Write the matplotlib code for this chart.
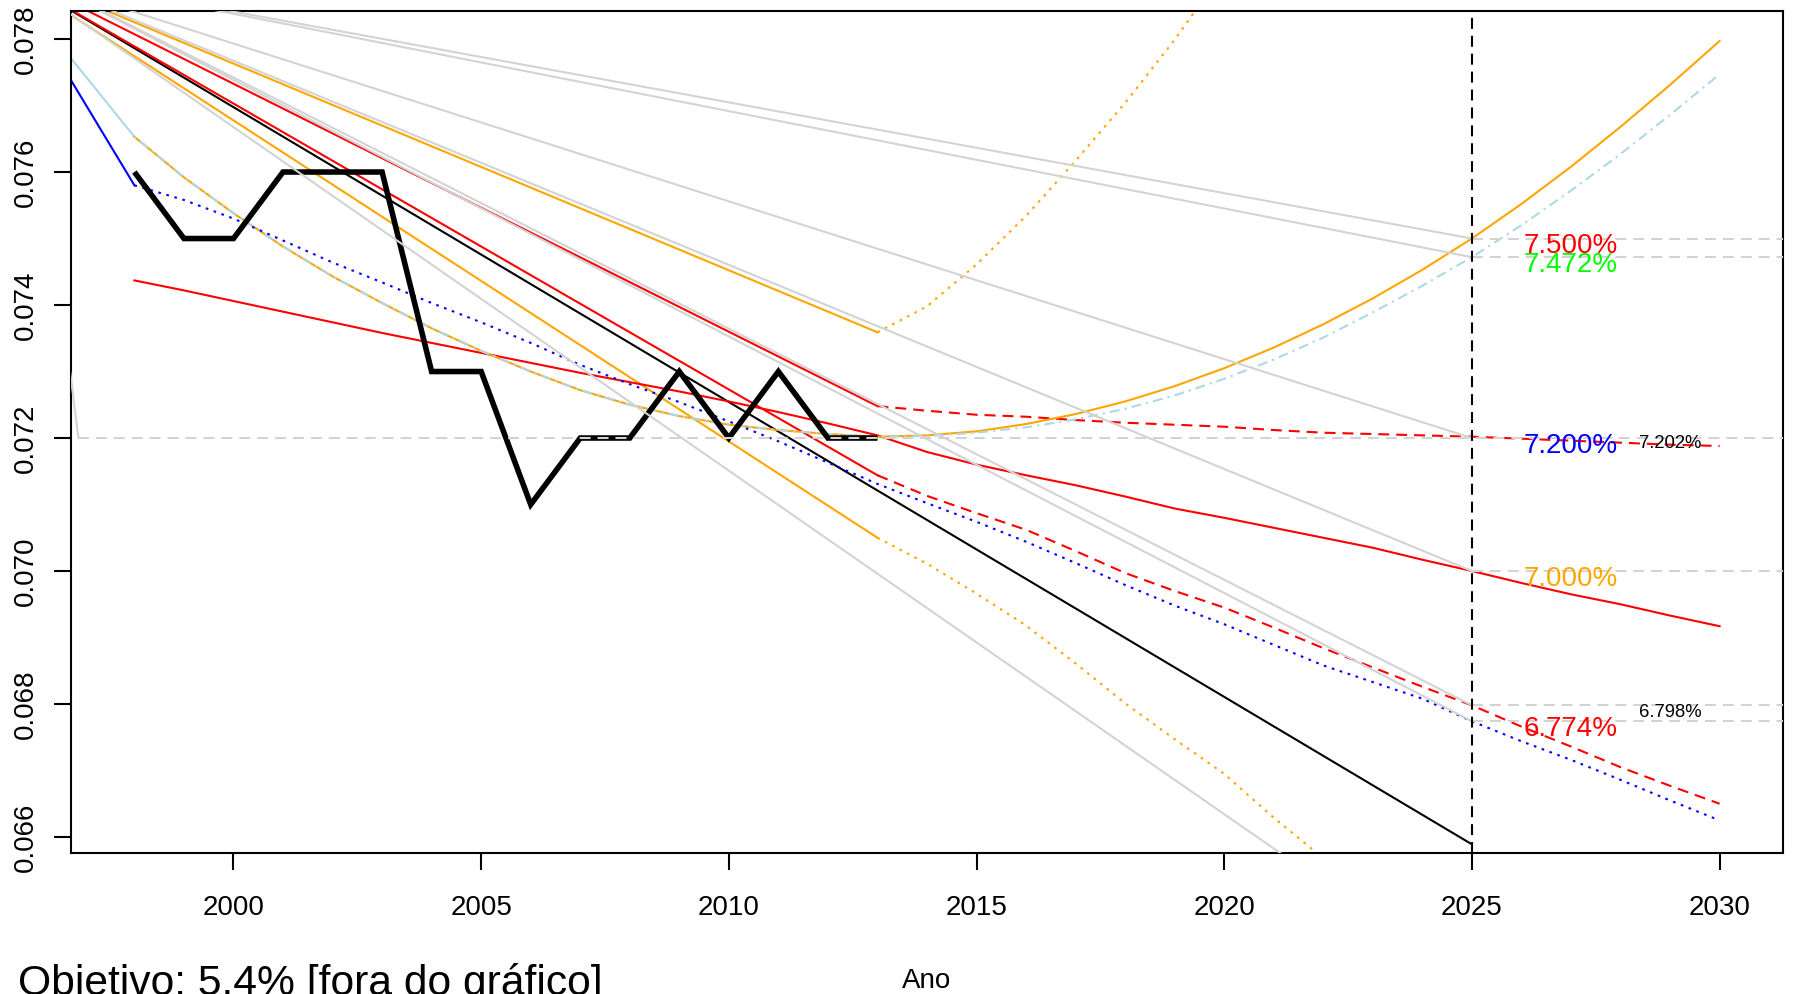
import matplotlib
matplotlib.use("Agg")
import matplotlib.pyplot as plt

plt.rcParams['font.family'] = ['Liberation Sans', 'DejaVu Sans']
plt.rcParams['lines.scale_dashes'] = False

# ---------------- data ----------------
XLIM = (1996.72, 2031.28)
YLIM = (0.065764, 0.078426)

x_ticks = [2000, 2005, 2010, 2015, 2020, 2025, 2030]
y_ticks = [0.066, 0.068, 0.070, 0.072, 0.074, 0.076, 0.078]
y_tick_labels = ["0.066", "0.068", "0.070", "0.072", "0.074", "0.076", "0.078"]

# historical series (thick black)
hist_years = list(range(1998, 2014))
hist_vals = [0.076, 0.075, 0.075, 0.076, 0.076, 0.076, 0.073, 0.073,
             0.071, 0.072, 0.072, 0.073, 0.072, 0.073, 0.072, 0.072]

# straight trend lines entering from the upper-left corner
black_thin_x = [1996.72, 2025]
black_thin_y = [0.07843, 0.06589]
redA_x = [1996.72, 2013]
redA_y = [0.07855, 0.07248]
redB_x = [1996.72, 2013]
redB_y = [0.07844, 0.07144]
orange1_x = [1996.72, 2013]
orange1_y = [0.07865, 0.07359]
orange2_x = [1996.72, 2013]
orange2_y = [0.07836, 0.07050]

# short segments at the left border
lightblue_seg_x = [1996.72, 1998]
lightblue_seg_y = [0.07771, 0.07653]
blue_seg_x = [1996.72, 1998]
blue_seg_y = [0.07738, 0.07580]

proj_years = list(range(2013, 2031))
redA_dash = [0.07248, 0.07241, 0.07235, 0.07232, 0.07227, 0.07223, 0.07220, 0.07217,
             0.07212, 0.07208, 0.07206, 0.07204, 0.07202, 0.07199, 0.07196, 0.07193,
             0.07190, 0.07188]
redB_dash = [0.07144, 0.07113, 0.07087, 0.07062, 0.07030, 0.06997, 0.06970, 0.06945,
             0.06915, 0.06884, 0.06855, 0.06826, 0.06798, 0.06766, 0.06736, 0.06705,
             0.06677, 0.06650]

orange1_dot_years = [2013, 2014, 2015, 2016, 2017, 2018, 2019, 2020]
orange1_dot = [0.07359, 0.07398, 0.07461, 0.07534, 0.07617, 0.07704, 0.07799, 0.07904]
orange2_dot_years = [2013, 2014, 2015, 2016, 2017, 2018, 2019, 2020, 2021, 2022, 2023]
orange2_dot = [0.07050, 0.07011, 0.06966, 0.06918, 0.06861, 0.06801, 0.06747,
               0.06695, 0.06629, 0.06568, 0.06505]

full_years = list(range(1998, 2031))
orange_curve = [0.07653, 0.07592, 0.07538, 0.07488, 0.07443, 0.07403, 0.07365, 0.07331,
                0.07300, 0.07272, 0.07250, 0.07233, 0.07220, 0.07212, 0.07206, 0.07202,
                0.07204, 0.07210, 0.07221, 0.07236, 0.07255, 0.07278, 0.07305, 0.07336,
                0.07371, 0.07410, 0.07453, 0.07500, 0.07552, 0.07608, 0.07668, 0.07731,
                0.07797]
lightblue_curve = [0.07653, 0.07592, 0.07538, 0.07488, 0.07443, 0.07403, 0.07365, 0.07331,
                   0.07300, 0.07272, 0.07250, 0.07233, 0.07220, 0.07212, 0.07206, 0.07202,
                   0.07203, 0.07208, 0.07216, 0.07228, 0.07244, 0.07264, 0.07289, 0.07318,
                   0.07351, 0.07389, 0.07429, 0.07472, 0.07520, 0.07572, 0.07627, 0.07686,
                   0.07747]
blue_dotted = [0.07580, 0.07558, 0.07530, 0.07497, 0.07464, 0.07434, 0.07403, 0.07374,
               0.07343, 0.07310, 0.07281, 0.07254, 0.07225, 0.07195, 0.07163, 0.07131,
               0.07102, 0.07074, 0.07044, 0.07012, 0.06979, 0.06948, 0.06920, 0.06889,
               0.06858, 0.06833, 0.06808, 0.06774, 0.06744, 0.06716, 0.06686, 0.06655,
               0.06625]
red_long = [0.07437, 0.07422, 0.07406, 0.07390, 0.07374, 0.07358, 0.07343, 0.07328,
            0.07313, 0.07298, 0.07284, 0.07270, 0.07255, 0.07239, 0.07222, 0.07204,
            0.07179, 0.07160, 0.07144, 0.07129, 0.07112, 0.07094, 0.07080, 0.07065,
            0.07050, 0.07035, 0.07017, 0.07000, 0.06982, 0.06965, 0.06950, 0.06933,
            0.06917]

# gray guide lines: start on left border, end points
gray_start_x = [1996.72, 1996.72, 1996.72, 1996.72, 1996.72, 1996.72, 1996.72]
gray_start_y = [0.07886, 0.07886, 0.07871, 0.07868, 0.07866, 0.07865, 0.07837]
gray_end_x = [2025, 2025, 2025, 2025, 2025, 2025, 2025]
gray_end_y = [0.07500, 0.07472, 0.07200, 0.07000, 0.06798, 0.06774, 0.06376]
gray_steep_x = [1996.50, 1996.87]
gray_steep_y = [0.07420, 0.07200]

# horizontal dashed guides (start x, level)
hguide_start = [2025, 2025, 1996.87, 2025, 2025, 2025]
hguide_level = [0.07500, 0.07472, 0.07200, 0.07000, 0.06798, 0.06774]
vline_year = 2025

big_labels = ["7.500%", "7.472%", "7.200%", "7.000%", "6.774%"]
big_label_y = [0.07500, 0.07472, 0.07200, 0.07000, 0.06774]
big_label_colors = ["#FF0000", "#00FF00", "#0000FF", "#FFA500", "#FF0000"]
big_label_x = 2027
small_labels = ["7.202%", "6.798%"]
small_label_y = [0.07202, 0.06798]
small_label_x = 2029

# ---------------- styles ----------------
LW = 1.5
DASHED = (0, (7.9, 5.0))
DOTTED = (0, (1.9, 4.1))
DASHDOT = (0, (1.6, 3.6, 7.2, 3.6))
GRAY = "#D3D3D3"
ORANGE = "#FFA500"
LBLUE = "#ADD8E6"

W, H = 1797, 994
fig = plt.figure(figsize=(W / 100, H / 100), dpi=100)
ax = fig.add_axes([71 / W, (H - 852.7) / H, (1783 - 71) / W, (852.7 - 10.7) / H])

# colored series
ax.plot(black_thin_x, black_thin_y, color="black", lw=LW, zorder=2)
ax.plot(redA_x, redA_y, color="red", lw=LW, zorder=2)
ax.plot(redB_x, redB_y, color="red", lw=LW, zorder=2)
ax.plot(orange1_x, orange1_y, color=ORANGE, lw=LW, zorder=2)
ax.plot(orange2_x, orange2_y, color=ORANGE, lw=LW, zorder=2)
ax.plot(lightblue_seg_x, lightblue_seg_y, color=LBLUE, lw=LW, zorder=2)
ax.plot(blue_seg_x, blue_seg_y, color="blue", lw=LW, zorder=2)

ax.plot(proj_years, redA_dash, color="red", lw=LW, linestyle=DASHED, zorder=2)
ax.plot(proj_years, redB_dash, color="red", lw=LW, linestyle=DASHED, zorder=2)
ax.plot(orange1_dot_years, orange1_dot, color=ORANGE, lw=LW, linestyle=DOTTED, zorder=2)
ax.plot(orange2_dot_years, orange2_dot, color=ORANGE, lw=LW, linestyle=DOTTED, zorder=2)

ax.plot(full_years, red_long, color="red", lw=LW, zorder=2)
ax.plot(full_years, orange_curve, color=ORANGE, lw=LW, zorder=2)
ax.plot(full_years, lightblue_curve, color=LBLUE, lw=LW, linestyle=DASHDOT, zorder=2.1)
ax.plot(full_years, blue_dotted, color="blue", lw=LW, linestyle=DOTTED, zorder=2.1)

# historical
ax.plot(hist_years, hist_vals, color="black", lw=4.0, zorder=3,
        solid_joinstyle="miter", solid_capstyle="butt")

# gray guides
for x0, y0, x1, y1 in zip(gray_start_x, gray_start_y, gray_end_x, gray_end_y):
    ax.plot([x0, x1], [y0, y1], color=GRAY, lw=LW, zorder=4)
ax.plot(gray_steep_x, gray_steep_y, color=GRAY, lw=LW, zorder=4)
for xs, lev in zip(hguide_start, hguide_level):
    ax.plot([xs, XLIM[1] + 1], [lev, lev], color=GRAY, lw=LW, linestyle=DASHED, zorder=4.5)
ax.axvline(vline_year, color="black", lw=LW, linestyle=DASHED, zorder=4.6)

# labels
for txt, yv, c in zip(big_labels, big_label_y, big_label_colors):
    ax.annotate(txt, xy=(big_label_x, yv), xytext=(0, -10.6), textcoords="offset points",
                ha="center", va="baseline", fontsize=20, color=c, zorder=6)
for txt, yv in zip(small_labels, small_label_y):
    ax.annotate(txt, xy=(small_label_x, yv), xytext=(0, -8.5), textcoords="offset points",
                ha="center", va="baseline", fontsize=13.3, color="black", zorder=6)

ax.set_xlim(*XLIM)
ax.set_ylim(*YLIM)
ax.set_xticks(x_ticks)
ax.set_xticklabels([str(v) for v in x_ticks])
ax.set_yticks(y_ticks)
ax.set_yticklabels(y_tick_labels)
for s in ax.spines.values():
    s.set_linewidth(1.5)
    s.set_color("black")
ax.tick_params(axis="x", length=12, width=1.5, labelsize=20, pad=18.4, direction="out")
ax.tick_params(axis="y", length=12, width=1.5, labelsize=20, pad=10.9, direction="out")
for lab in ax.get_yticklabels():
    lab.set_rotation(90)
    lab.set_verticalalignment("center")

ax_center = (71 + 1783) / 2 / W
fig.text(ax_center, (H - 988) / H, "Ano", ha="center", va="baseline", fontsize=20)
fig.text(18 / W, (H - 995.3) / H, "Objetivo: 5.4% [fora do gráfico]",
         ha="left", va="baseline", fontsize=30.7)

fig.savefig("out.png", dpi=100)
